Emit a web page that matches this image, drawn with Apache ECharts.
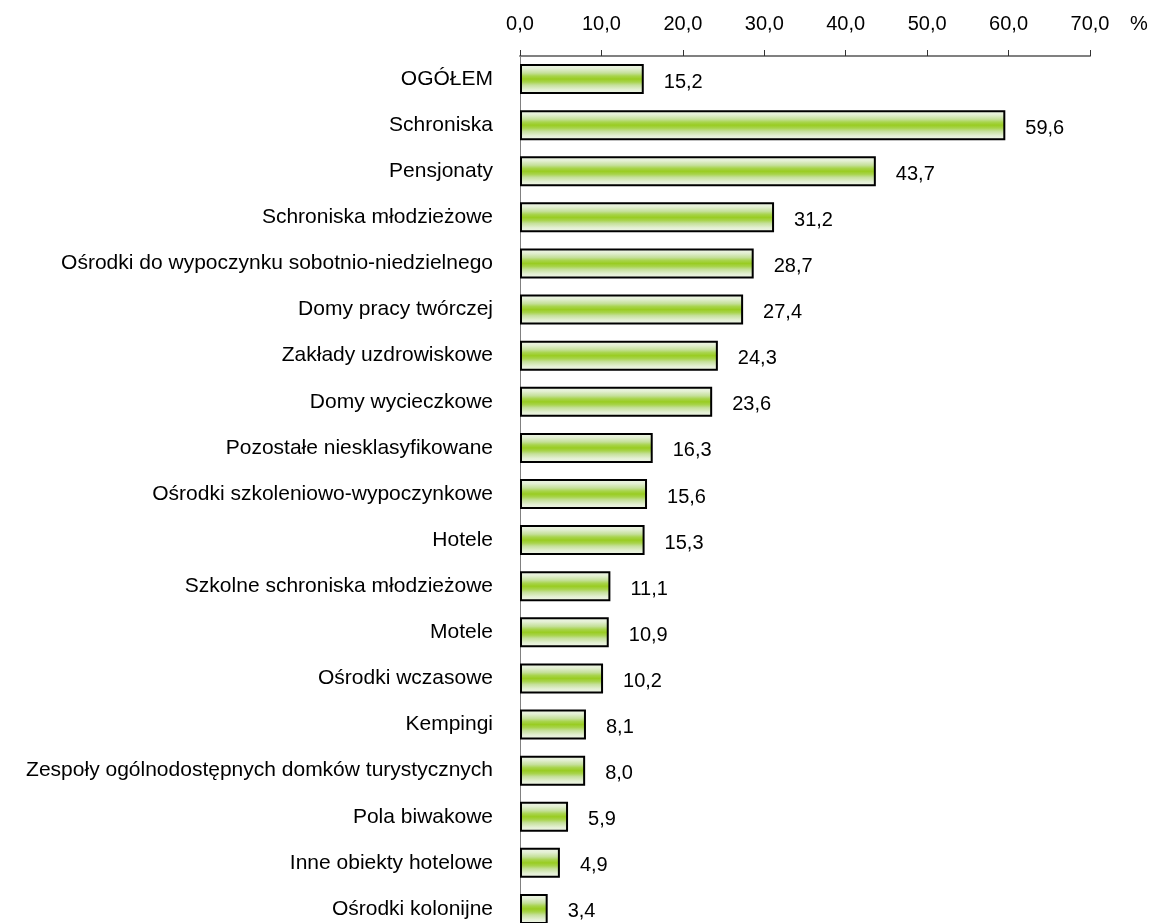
<!DOCTYPE html>
<html>
<head>
<meta charset="utf-8">
<script src="https://cdn.jsdelivr.net/npm/echarts@6/dist/echarts.min.js"></script>
<style>
html, body { margin: 0; padding: 0; background: #fff; overflow: hidden; }
/* wykres jest przycięty u dołu, jak w oryginale */
#bar { width: 1149px; height: 940px; }
</style>
</head>
<body>
<div id="bar"></div>
<script>
// kategorie obiektów, od góry do dołu
var categories = [
    'OGÓŁEM',
    'Schroniska',
    'Pensjonaty',
    'Schroniska młodzieżowe',
    'Ośrodki do wypoczynku sobotnio-niedzielnego',
    'Domy pracy twórczej',
    'Zakłady uzdrowiskowe',
    'Domy wycieczkowe',
    'Pozostałe niesklasyfikowane',
    'Ośrodki szkoleniowo-wypoczynkowe',
    'Hotele',
    'Szkolne schroniska młodzieżowe',
    'Motele',
    'Ośrodki wczasowe',
    'Kempingi',
    'Zespoły ogólnodostępnych domków turystycznych',
    'Pola biwakowe',
    'Inne obiekty hotelowe',
    'Ośrodki kolonijne'
];
var values = [15.2, 59.6, 43.7, 31.2, 28.7, 27.4, 24.3, 23.6, 16.3, 15.6, 15.3, 11.1, 10.9, 10.2, 8.1, 8.0, 5.9, 4.9, 3.4];
var axisMin = 0;
var axisMax = 70;
var axisStep = 10;

function pl(v) {
    return v.toFixed(1).replace('.', ',');
}

var font = 'Liberation Sans, Arial, sans-serif';
var myChart = echarts.init(document.getElementById('bar'));
myChart.setOption({
    animation: false,
    title: {
        text: '%',
        left: 1125,
        top: 9,
        textStyle: { fontSize: 20, fontWeight: 'normal', color: '#000', fontFamily: font }
    },
    grid: { left: 520, top: 56, width: 570, height: 876, containLabel: false },
    xAxis: {
        type: 'value',
        position: 'top',
        min: axisMin,
        max: axisMax,
        interval: axisStep,
        splitLine: { show: false },
        axisLine: { show: true, lineStyle: { color: '#808080', width: 2 } },
        axisTick: { show: true, length: 6, lineStyle: { color: '#333', width: 1 } },
        axisLabel: {
            margin: 22,
            fontSize: 20,
            color: '#000',
            fontFamily: font,
            formatter: function (v) { return pl(v); }
        }
    },
    yAxis: {
        type: 'category',
        inverse: true,
        data: categories,
        axisLine: { show: true, lineStyle: { color: '#808080', width: 1 } },
        axisTick: { show: false },
        axisLabel: { margin: 27, fontSize: 21, color: '#000', fontFamily: font }
    },
    series: [{
        name: 'udział',
        type: 'bar',
        data: values,
        barWidth: 30,
        itemStyle: {
            borderColor: '#000',
            borderWidth: 2,
            color: new echarts.graphic.LinearGradient(0, 0, 0, 1, [
                { offset: 0, color: '#f2f7ec' },
                { offset: 0.15, color: '#e4f0d4' },
                { offset: 0.3, color: '#c5e09a' },
                { offset: 0.4, color: '#a8d44c' },
                { offset: 0.5, color: '#99cc22' },
                { offset: 0.6, color: '#a8d44c' },
                { offset: 0.7, color: '#c5e09a' },
                { offset: 0.85, color: '#e4f0d4' },
                { offset: 1, color: '#f2f7ec' }
            ])
        },
        label: {
            show: true,
            position: 'right',
            distance: 20,
            offset: [0, 3],
            fontSize: 20,
            color: '#000',
            fontFamily: font,
            formatter: function (p) { return pl(p.value); }
        }
    }]
});
</script>
</body>
</html>
